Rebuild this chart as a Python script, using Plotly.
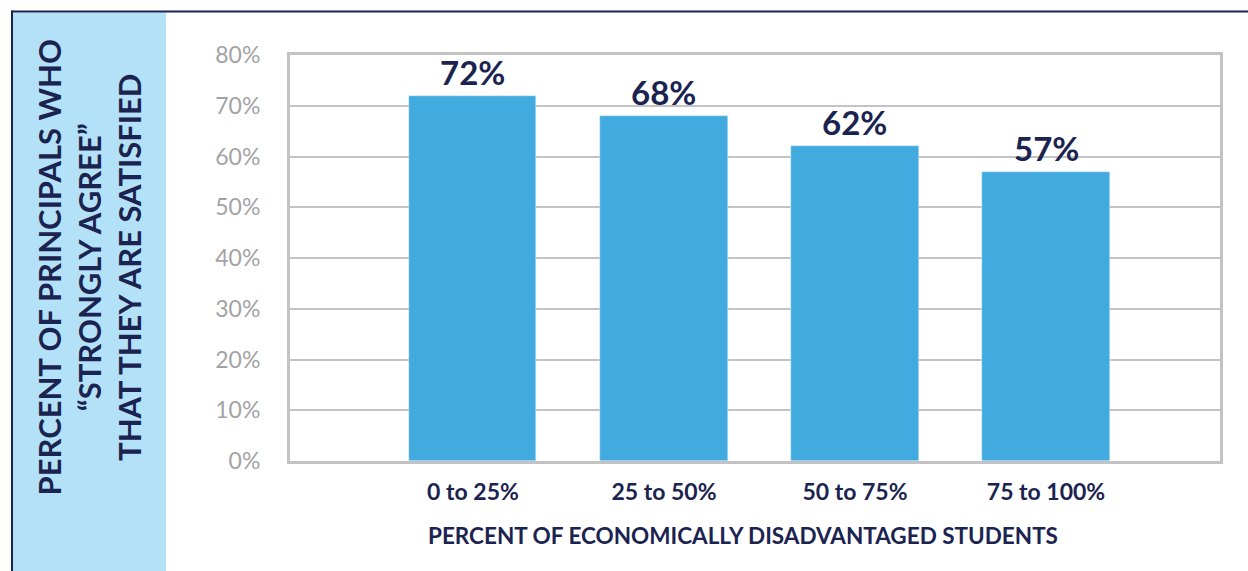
import plotly.graph_objects as go

# Survey data
categories = ["0 to 25%", "25 to 50%", "50 to 75%", "75 to 100%"]
values = [72, 68, 62, 57]
y_ticks = [0, 10, 20, 30, 40, 50, 60, 70, 80]
y_tick_labels = [f"{t}%" for t in y_ticks]

NAVY = "#1b2350"
BAR = "#41abe0"
GRID = "#c3c3c5"
PANEL = "#b3e1f8"

W, H = 1248, 571
ML, MR, MT, MB = 290, 28, 55, 110
PW, PH = W - ML - MR, H - MT - MB


def px_x(px):
    return (px - ML) / PW


def px_y(py):
    return (H - MB - py) / PH


fig = go.Figure()
fig.add_trace(go.Bar(
    x=categories, y=values, marker_color=BAR, width=0.665,
    hoverinfo="skip",
))

# Value labels above each bar
for c, v in zip(categories, values):
    fig.add_annotation(
        x=c, y=v, text=f"{v}%", showarrow=False, yanchor="bottom", yshift=2,
        font=dict(family="Lato", size=33, color=NAVY, weight="bold"),
    )

# Frame and side panel
shapes = [
    dict(type="rect", xref="paper", yref="paper", x0=px_x(13), x1=px_x(166),
         y0=px_y(571), y1=px_y(12.5), fillcolor=PANEL, line_width=0, layer="below"),
    dict(type="line", xref="paper", yref="paper", x0=px_x(11), x1=px_x(1250),
         y0=px_y(11.5), y1=px_y(11.5), line=dict(color=NAVY, width=2)),
    dict(type="line", xref="paper", yref="paper", x0=px_x(12), x1=px_x(12),
         y0=px_y(10.5), y1=px_y(575), line=dict(color=NAVY, width=2)),
]
fig.update_layout(shapes=shapes)

# Vertical axis title on the side panel
fig.add_annotation(
    xref="paper", yref="paper", x=px_x(88.5), y=px_y(268),
    text="PERCENT OF PRINCIPALS WHO<br>\u201cSTRONGLY AGREE\u201d<br>THAT THEY ARE SATISFIED",
    textangle=-90, showarrow=False, xanchor="center", yanchor="middle",
    font=dict(family="Lato", size=31, color=NAVY, weight="bold"),
)

# Horizontal axis title
fig.add_annotation(
    xref="paper", yref="paper", x=px_x(743), y=px_y(535),
    text="PERCENT OF ECONOMICALLY DISADVANTAGED STUDENTS",
    showarrow=False, xanchor="center", yanchor="middle",
    font=dict(family="Lato", size=22.5, color=NAVY, weight="bold"),
)

fig.update_layout(
    width=W, height=H,
    margin=dict(l=ML, r=MR, t=MT, b=MB),
    paper_bgcolor="white", plot_bgcolor="white",
    showlegend=False,
    bargap=0,
)
fig.update_xaxes(
    type="category", range=[-0.958, 3.911],
    showline=True, linecolor=GRID, linewidth=3, mirror=True,
    showgrid=False, ticks="", ticklabelstandoff=8,
    tickfont=dict(family="Lato", size=23, color=NAVY, weight="bold"),
)
fig.update_yaxes(
    range=[0, 80], tickvals=y_ticks, ticktext=y_tick_labels,
    showline=True, linecolor=GRID, linewidth=3, mirror=True,
    showgrid=True, gridcolor=GRID, gridwidth=2, zeroline=False,
    ticks="", ticklabelstandoff=22,
    tickfont=dict(family="Lato", size=23, color="#a3a3a5"),
)

fig.write_html("out.html")
